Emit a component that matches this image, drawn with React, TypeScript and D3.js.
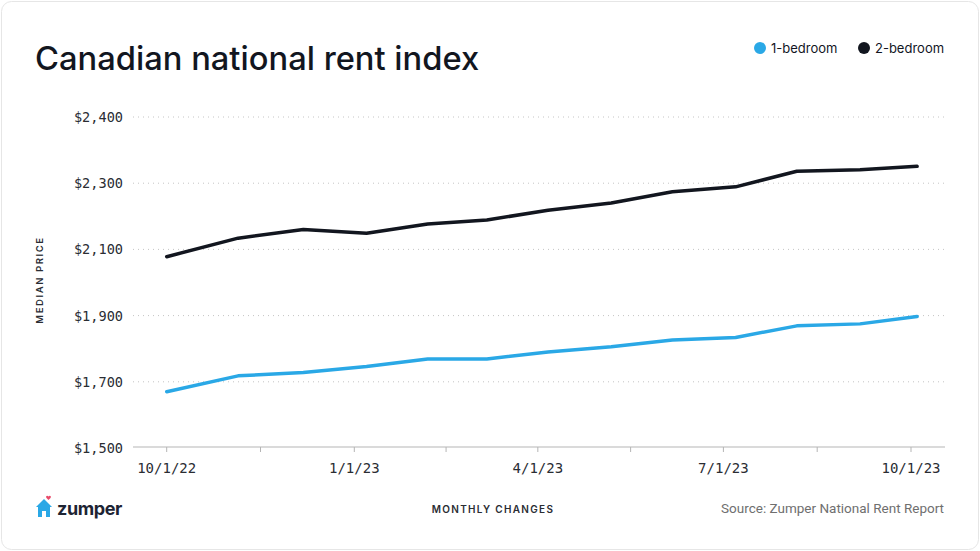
import * as d3 from "d3";

const W = 980, H = 551;
const PLOT = { left: 133, right: 945, top: 117, bottom: 448 };
const BLUE = "#2aa8e6";
const INK = "#12161f";
const MONO = "'DejaVu Sans Mono', 'Liberation Mono', monospace";
const SANS = "Inter, 'Noto Sans', sans-serif";

// dates the points sit on
const dates = [
  "2022-10-01", "2022-11-05", "2022-12-07", "2023-01-07", "2023-02-06", "2023-03-07", "2023-04-06",
  "2023-05-07", "2023-06-06", "2023-07-07", "2023-08-06", "2023-09-06", "2023-10-04",
];
const oneBed = [1670, 1718, 1728, 1746, 1769, 1769, 1790, 1806, 1826, 1834, 1869, 1875, 1897];
const twoBed = [2078, 2134, 2160, 2149, 2177, 2189, 2218, 2240, 2274, 2289, 2336, 2341, 2351];

const yTicks = [1500, 1700, 1900, 2100, 2300, 2500];
const yTickLabels = ["$1,500", "$1,700", "$1,900", "$2,100", "$2,300", "$2,400"];
const xTicks = ["2022-10-01", "2023-01-01", "2023-04-01", "2023-07-01", "2023-10-01"];
const xTickLabels = ["10/1/22", "1/1/23", "4/1/23", "7/1/23", "10/1/23"];

const parse = d3.utcParse("%Y-%m-%d");

export default function App() {
  const x = d3.scaleUtc([parse("2022-10-01")!, parse("2023-10-01")!], [166.7, 911]);
  const y = d3.scaleLinear([1500, 2500], [PLOT.bottom, PLOT.top]);

  const line = d3.line<number>()
    .x((_, i) => x(parse(dates[i])!))
    .y((d) => y(d));

  const major = xTicks.map((t) => x(parse(t)!));
  const minor = major.slice(1).map((p, i) => (p + major[i]) / 2);

  return (
    <div style={{ position: "fixed", left: 0, top: 0 }}>
      <svg width={W} height={H} style={{ display: "block", background: "#fff" }}>
        <rect x={1.5} y={1.5} width={W - 3} height={H - 3} rx={10} fill="#fff" stroke="#e6e6e6" />

        {/* Title */}
        <text x={35} y={70} fontFamily={SANS} fontSize={32.7} fontWeight={500} fill={INK}>
          Canadian national rent index
        </text>

        {/* Legend */}
        <circle cx={760} cy={48} r={6} fill={BLUE} />
        <text x={771} y={52.5} fontFamily={SANS} fontSize={13} fill={INK}>1-bedroom</text>
        <circle cx={864} cy={48} r={6} fill={INK} />
        <text x={875} y={52.5} fontFamily={SANS} fontSize={13} fill={INK}>2-bedroom</text>

        {/* Grid + y labels */}
        {yTicks.map((t, i) => (
          <g key={t}>
            {i > 0 && (
              <line x1={PLOT.left} x2={PLOT.right} y1={y(t)} y2={y(t)}
                stroke="#c4c4c4" strokeWidth={1} strokeDasharray="1,4" />
            )}
            <text x={123} y={y(t) + 5} textAnchor="end" fontFamily={MONO} fontSize={13.6} fill="#2a2d33">
              {yTickLabels[i]}
            </text>
          </g>
        ))}
        <text transform={`translate(43,280) rotate(-90)`} textAnchor="middle" fontFamily={SANS}
          fontSize={9.5} fontWeight={600} letterSpacing={1.6} fill="#2a2d33">
          MEDIAN PRICE
        </text>

        {/* X axis */}
        <line x1={PLOT.left} x2={PLOT.right} y1={PLOT.bottom - 1} y2={PLOT.bottom - 1} stroke="#b5b5b5" strokeWidth={1.2} />
        {[...major, ...minor].map((p, i) => (
          <line key={i} x1={p} x2={p} y1={PLOT.bottom - 1} y2={PLOT.bottom + 4} stroke="#b5b5b5" strokeWidth={1} />
        ))}
        {major.map((p, i) => (
          <text key={i} x={p} y={473} textAnchor="middle" fontFamily={MONO} fontSize={14} fill="#2a2d33">
            {xTickLabels[i]}
          </text>
        ))}

        {/* Lines */}
        <path d={line(twoBed) ?? ""} fill="none" stroke={INK} strokeWidth={3.5} strokeLinejoin="round" strokeLinecap="round" />
        <path d={line(oneBed) ?? ""} fill="none" stroke={BLUE} strokeWidth={3.5} strokeLinejoin="round" strokeLinecap="round" />

        {/* Footer */}
        <g transform="translate(36,498)">
          <path d="M0,9 L8,1 L16,9 L14,9 L14,19 L10,19 L10,13 L6,13 L6,19 L2,19 L2,9 Z" fill={BLUE} />
          <path d="M12.5,-1.5 c-1.2,-1.6 -3.4,-0.2 -2,1.4 l2,2 l2,-2 c1.4,-1.6 -0.8,-3 -2,-1.4 z" fill="#e84a6a" />
          <text x={21} y={17} fontFamily={SANS} fontSize={18} fontWeight={700} fill="#1d2433" letterSpacing={-0.4}>zumper</text>
        </g>
        <text x={493} y={513} textAnchor="middle" fontFamily={SANS} fontSize={10} fontWeight={600}
          letterSpacing={1.3} fill="#2a2d33">
          MONTHLY CHANGES
        </text>
        <text x={944} y={513} textAnchor="end" fontFamily="Roboto, sans-serif" fontSize={13.5} fill="#6f6f6f">
          Source: Zumper National Rent Report
        </text>
      </svg>
    </div>
  );
}
